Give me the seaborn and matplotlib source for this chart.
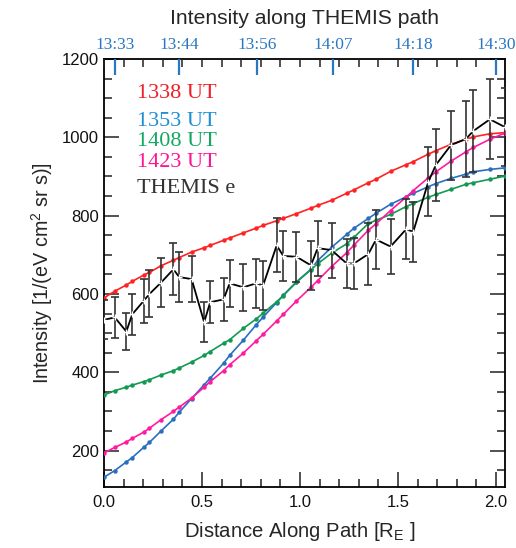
import matplotlib
matplotlib.use("Agg")
import matplotlib.pyplot as plt
import seaborn as sns
import numpy as np
from matplotlib.ticker import MultipleLocator

# ---- data ----
dist = [0.000, 0.055, 0.114, 0.144, 0.202, 0.232, 0.291, 0.354, 0.384, 0.447,
        0.511, 0.542, 0.610, 0.641, 0.711, 0.776, 0.812, 0.881, 0.915, 0.982,
        1.056, 1.090, 1.161, 1.238, 1.276, 1.349, 1.388, 1.462, 1.541, 1.578,
        1.655, 1.694, 1.770, 1.847, 1.884, 1.969, 2.046]

ut1338 = [590, 607, 623, 632, 648, 655, 672, 686, 693, 707,
          718, 724, 737, 743, 756, 768, 775, 787, 793, 805,
          819, 826, 839, 857, 866, 884, 893, 913, 930, 938,
          957, 966, 982, 995, 1001, 1009, 1012]

ut1353 = [132, 149, 171, 182, 208, 221, 250, 280, 298, 333,
          368, 385, 423, 443, 482, 521, 541, 578, 597, 631,
          663, 685, 719, 752, 768, 793, 806, 829, 848, 857,
          874, 882, 895, 906, 912, 918, 922]

ut1408 = [342, 353, 362, 367, 376, 381, 393, 404, 411, 426,
          443, 453, 474, 483, 512, 536, 551, 580, 596, 630,
          662, 677, 704, 728, 745, 780, 788, 803, 823, 831,
          847, 854, 867, 880, 884, 893, 901]

ut1423 = [194, 208, 222, 231, 247, 257, 279, 300, 311, 334,
          362, 376, 404, 419, 449, 480, 497, 531, 548, 582,
          617, 634, 670, 705, 725, 763, 779, 813, 847, 864,
          897, 912, 939, 963, 974, 995, 1011]

themis = [534, 540, 504, 548, 582, 600, 629, 663, 643, 638,
          528, 579, 586, 627, 617, 627, 622, 724, 697, 695,
          673, 717, 712, 678, 678, 702, 739, 721, 765, 759,
          887, 930, 980, 996, 1016, 1046, 1026]

themis_err = [50, 53, 48, 53, 57, 60, 62, 66, 63, 58,
              51, 53, 56, 60, 60, 63, 62, 69, 64, 64,
              63, 70, 70, 62, 66, 80, 75, 71, 77, 77,
              88, 92, 88, 97, 105, 102, 100]

time_pos = [0.056, 0.383, 0.781, 1.168, 1.577, 2.000]
time_labels = ["13:33", "13:44", "13:56", "14:07", "14:18", "14:30"]

legend_labels = ["1338 UT", "1353 UT", "1408 UT", "1423 UT", "THEMIS e"]

# ---- style ----
sns.set_style("ticks")
plt.rcParams["font.family"] = ["Liberation Sans", "DejaVu Sans"]
plt.rcParams["mathtext.default"] = "regular"

fig = plt.figure(figsize=(5.16, 5.48), dpi=100)
ax = fig.add_axes([104/516, 1 - 487/548, 401/516, 428/548])

curve_colors = ["#ff2222", "#2a6fbf", "#139a52", "#ff1aa0"]
legend_colors = ["#f01e28", "#1f8fd4", "#12a860", "#ff1493", "#333333"]

for yv, c in zip([ut1338, ut1353, ut1408, ut1423], curve_colors):
    sns.lineplot(x=dist, y=yv, color=c, linewidth=1.2, marker="o",
                 markersize=3.2, markeredgewidth=0, sort=False, ax=ax,
                 zorder=3)

ax.errorbar(dist, themis, yerr=themis_err, fmt="none", ecolor="#333333",
            elinewidth=1.2, capsize=3.2, capthick=1.2, zorder=4)
sns.lineplot(x=dist, y=themis, color="black", linewidth=1.3, marker="+",
             markersize=4, markeredgewidth=1.0, sort=False, ax=ax, zorder=5)

ax.set_xlim(0, 2.046)
ax.set_ylim(107, 1200)

ax.xaxis.set_major_locator(MultipleLocator(0.5))
ax.xaxis.set_minor_locator(MultipleLocator(0.1))
ax.yaxis.set_major_locator(MultipleLocator(200))
ax.yaxis.set_minor_locator(MultipleLocator(50))
ax.xaxis.set_major_formatter(matplotlib.ticker.FormatStrFormatter("%.1f"))

ax.tick_params(which="both", direction="in", bottom=True, top=False,
               left=True, right=True, color="#222222", width=1.1,
               labelsize=12, labelcolor="#111111")
ax.tick_params(which="major", length=10.5)
ax.tick_params(which="minor", length=5.5)
ax.tick_params(axis="x", pad=5.5)
ax.tick_params(axis="y", pad=3.5)
for s in ax.spines.values():
    s.set_linewidth(1.3)
    s.set_color("black")

ax.set_xlabel("Distance Along Path [R$_E$ ]", fontsize=14.6)
ax.set_ylabel("Intensity [1/(eV cm$^2$ sr s)]", fontsize=14.2, labelpad=5)
ax.xaxis.set_label_coords(0.488, -0.078)

# top axis (time)
ax2 = ax.twiny()
ax2.set_xlim(ax.get_xlim())
ax2.set_xticks(time_pos)
ax2.set_xticklabels(time_labels, family=["Liberation Serif", "DejaVu Serif"],
                    fontsize=12.5, color="#2a78c2")
ax2.xaxis.set_minor_locator(MultipleLocator(0.1))
ax2.tick_params(which="major", direction="in", length=11.5, width=1.6,
                color="#2a78c2", pad=4)
ax2.tick_params(which="minor", direction="in", length=5.5, width=1.1,
                color="#222222")
for s in ax2.spines.values():
    s.set_visible(False)
ax2.set_title("Intensity along THEMIS path", fontsize=15.2, pad=25)

# legend as coloured text
ys = [0.910, 0.844, 0.797, 0.747, 0.688]
for lab, c, yy in zip(legend_labels, legend_colors, ys):
    ax.text(0.083, yy, lab, transform=ax.transAxes, color=c, fontsize=16,
            family=["Liberation Serif", "DejaVu Serif"], va="baseline",
            ha="left")

fig.savefig("out.png", dpi=100)
